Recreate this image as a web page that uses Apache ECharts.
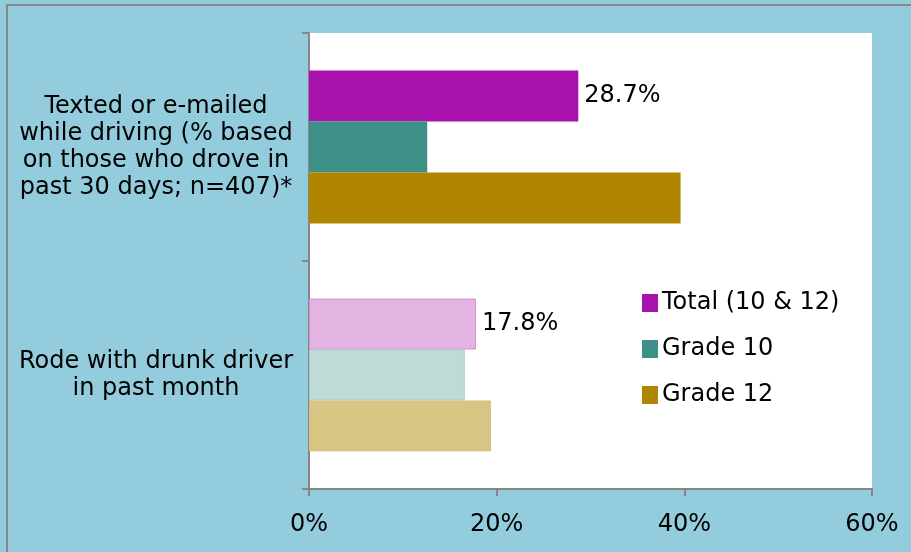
<!DOCTYPE html>
<html>
<head>
<meta charset="utf-8">
<script src="https://cdn.jsdelivr.net/npm/echarts@6/dist/echarts.min.js"></script>
<style>
html,body{margin:0;padding:0;background:#93CCDD;}
#chart{width:911px;height:552px;}
</style>
</head>
<body>
<div id="chart"></div>
<script>
const categories = [
  'Texted or e-mailed\nwhile driving (% based\non those who drove in\npast 30 days; n=407)*',
  'Rode with drunk driver\nin past month'
];
const seriesNames = ['Total (10 & 12)', 'Grade 10', 'Grade 12'];
const totalValues = [28.7, 17.8];
const grade10Values = [12.6, 16.6];
const grade12Values = [39.6, 19.4];
const xTicks = [0, 20, 40, 60];

const mainColors = ['#A612AB', '#3D9189', '#B08600'];
const lightColors = ['#E3B3E2', '#BFDBD8', '#D8C483'];
const lightBorders = ['#D590D4', '#A3CFCB', '#D8C483'];

const valueSets = [totalValues, grade10Values, grade12Values];

const chart = echarts.init(document.getElementById('chart'), null, {renderer: 'canvas'});

const series = seriesNames.map((name, si) => ({
  name: name,
  type: 'bar',
  barGap: '0%',
  barCategoryGap: '33%',
  itemStyle: {color: mainColors[si]},
  data: valueSets[si].map((v, ci) => ci === 0 ? {value: v} : {
    value: v,
    itemStyle: {color: lightColors[si], borderColor: lightBorders[si], borderWidth: 1}
  }),
  label: si === 0 ? {
    show: true,
    position: 'right',
    distance: 6,
    formatter: p => p.value.toFixed(1) + '%',
    fontFamily: 'DejaVu Sans',
    fontSize: 24,
    color: '#000'
  } : {show: false}
}));

chart.setOption({
  backgroundColor: '#93CCDD',
  animation: false,
  textStyle: {fontFamily: 'DejaVu Sans'},
  graphic: [
    {type: 'rect', shape: {x: 6, y: 4, width: 910, height: 2}, style: {fill: '#888888'}, silent: true},
    {type: 'rect', shape: {x: 6, y: 4, width: 2, height: 560}, style: {fill: '#888888'}, silent: true}
  ],
  grid: {left: 309, right: 39, top: 33, bottom: 63, containLabel: false, backgroundColor: '#FFFFFF', show: true, borderWidth: 0},
  legend: {
    data: seriesNames,
    orient: 'vertical',
    left: 637,
    top: 286,
    icon: 'rect',
    itemWidth: 16,
    itemHeight: 18,
    itemGap: 22,
    textStyle: {fontFamily: 'DejaVu Sans', fontSize: 24, lineHeight: 24, color: '#000', padding: [0, 0, 0, -1]}
  },
  xAxis: {
    type: 'value',
    min: 0,
    max: 60,
    interval: 20,
    axisLine: {show: true, lineStyle: {color: '#868686', width: 2}},
    axisTick: {show: true, length: 7, lineStyle: {color: '#868686', width: 2}},
    splitLine: {show: false},
    axisLabel: {
      margin: 24,
      fontFamily: 'DejaVu Sans',
      fontSize: 24,
      color: '#000',
      formatter: v => xTicks.includes(v) ? v + '%' : ''
    }
  },
  yAxis: {
    type: 'category',
    inverse: true,
    data: categories,
    axisLine: {show: true, lineStyle: {color: '#868686', width: 2}},
    axisTick: {show: true, length: 7, lineStyle: {color: '#868686', width: 2}},
    axisLabel: {
      margin: 153,
      align: 'center',
      fontFamily: 'DejaVu Sans',
      fontSize: 24,
      lineHeight: 27,
      color: '#000'
    }
  },
  series: series
});
</script>
</body>
</html>
